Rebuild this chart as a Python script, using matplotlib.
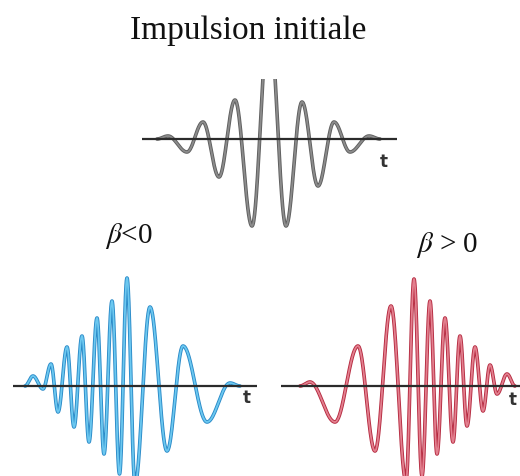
import numpy as np
import matplotlib
matplotlib.use("Agg")
import matplotlib.pyplot as plt
import matplotlib.patheffects as pe

plt.rcParams["mathtext.fontset"] = "stix"

# Extrema of each pulse: time (relative to the main crest) and field amplitude
initial_t = [-112, -101, -82, -66, -50, -34, -17, 0, 17, 33, 49, 65, 81, 100, 111]
initial_a = [0, 0.03, -0.13, 0.17, -0.38, 0.39, -0.87, 1.20, -0.87, 0.37, -0.47, 0.17, -0.13, 0.03, 0]

neg_t = [-102, -94, -84, -76, -69, -60, -53, -45, -38, -30, -23, -15, -7.5, 0, 8, 23, 40, 56, 80, 103, 113]
neg_a = [0, 0.10, -0.03, 0.22, -0.26, 0.39, -0.41, 0.50, -0.56, 0.68, -0.68, 0.85, -0.88, 1.08, -0.98,
         0.79, -0.65, 0.40, -0.36, 0.03, 0]

pos_t = [-114, -104, -79, -56, -39, -23, -8, 0, 8, 16, 23, 31, 39, 46, 53, 61, 69, 76, 83, 93, 101]
pos_a = [0, 0.04, -0.36, 0.40, -0.65, 0.80, -0.95, 1.07, -0.90, 0.85, -0.68, 0.68, -0.56, 0.50, -0.40,
         0.39, -0.25, 0.21, -0.08, 0.12, 0]

title_text = "Impulsion initiale"
label_neg = r"$\beta$<0"
label_pos = r"$\beta$ > 0"

W, H = 520, 477
fig = plt.figure(figsize=(W / 100, H / 100), dpi=100)


def smooth_path(t, a, n=40):
    """Join successive extrema with half-cosine arcs (zero slope at each extremum)."""
    xs, ys = [], []
    for i in range(len(t) - 1):
        s = np.linspace(0, 1, n, endpoint=False)
        xs.append(t[i] + (t[i + 1] - t[i]) * s)
        ys.append(a[i] + (a[i + 1] - a[i]) * (1 - np.cos(np.pi * s)) / 2)
    xs.append([t[-1]])
    ys.append([a[-1]])
    return np.concatenate(xs), np.concatenate(ys)


def pulse_axes(px_left, px_right, px_top, px_bottom, x_center, y_axis):
    ax = fig.add_axes([px_left / W, 1 - px_bottom / H,
                       (px_right - px_left) / W, (px_bottom - px_top) / H])
    ax.set_xlim(px_left - x_center, px_right - x_center)
    ax.set_ylim(-(px_bottom - y_axis) / 100, (y_axis - px_top) / 100)
    ax.axis("off")
    return ax


def draw_pulse(ax, t, a, dark, light):
    x, y = smooth_path(t, a)
    ax.plot(x, y, color=light, lw=1.3, solid_capstyle="round",
            path_effects=[pe.Stroke(linewidth=2.6, foreground=dark), pe.Normal()], zorder=2)
    ax.axhline(0, color="#2b2b2b", lw=1.6, zorder=3)


ax0 = pulse_axes(142, 397, 80, 245, 269, 140)
draw_pulse(ax0, initial_t, initial_a, "#5e5e5e", "#8c8c8c")

ax1 = pulse_axes(13, 257, 262, 477, 127, 387)
draw_pulse(ax1, neg_t, neg_a, "#2a8ac8", "#6cc8f0")

ax2 = pulse_axes(281, 520, 262, 477, 414, 387)
draw_pulse(ax2, pos_t, pos_a, "#b52a40", "#e3808f")

# time-axis letters
for (px, py) in [(384, 162), (247, 398), (513, 400)]:
    fig.text(px / W, 1 - py / H, "t", ha="center", va="center",
             fontsize=12, fontweight="bold", family="DejaVu Sans", color="#333333")

fig.text(248 / W, 1 - 39 / H, title_text, ha="center", va="baseline",
         fontsize=24, family="Liberation Serif", color="#111111")
fig.text(105 / W, 1 - 243 / H, label_neg, ha="left", va="baseline",
         fontsize=21, family="Liberation Serif", color="#111111")
fig.text(478 / W, 1 - 252 / H, label_pos, ha="right", va="baseline",
         fontsize=21, family="Liberation Serif", color="#111111")

fig.savefig("out.png", dpi=100)
